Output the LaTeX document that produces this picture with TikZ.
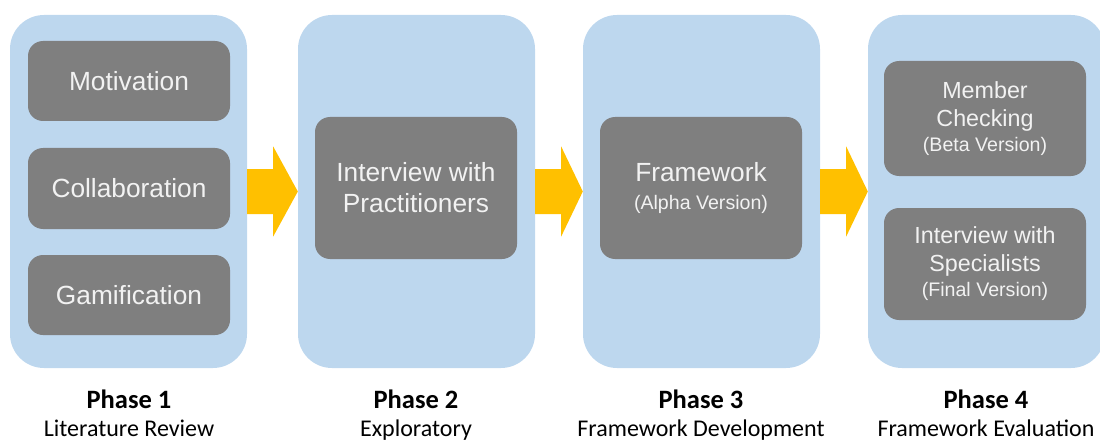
\documentclass[tikz,border=0pt]{standalone}
\usepackage{fontspec}
\newfontfamily\arialf{Liberation Sans}
\newfontfamily\calf{Carlito}
\usetikzlibrary{calc}
\definecolor{phaseblue}{HTML}{BDD7EE}
\definecolor{itemgray}{HTML}{7F7F7F}
\definecolor{itemtext}{HTML}{F2F2F2}
\definecolor{arrowgold}{HTML}{FFC000}
\tikzset{
  phasebox/.style={fill=phaseblue, draw=none, rounded corners=34pt, minimum width=237pt, minimum height=353pt, inner sep=0pt},
  itembox/.style={fill=itemgray, draw=none, rounded corners=15pt, minimum width=202pt, inner sep=0pt, text=itemtext, align=center},
  bigtxt/.style={font=\arialf\fontsize{26.3}{31}\selectfont},
  midtxt/.style={font=\arialf\fontsize{23.3}{28}\selectfont},
  phasetitle/.style={font=\calf\bfseries\fontsize{26.5}{30}\selectfont, anchor=base, inner sep=0pt},
  phasesub/.style={font=\calf\fontsize{24}{28}\selectfont, anchor=base, inner sep=0pt},
  flowarrow/.style={fill=arrowgold, draw=none}
}
\newcommand{\smalltext}[1]{{\fontsize{19.6}{22}\selectfont #1}}
\newcommand{\phasearrow}[2]{%
  \fill[flowarrow] ($(#1.east)+(0,-22.5)$) -- ($(#1.east)+(26,-22.5)$) -- ($(#1.east)+(26,-45)$)
    -- (#2.west) -- ($(#1.east)+(26,45)$) -- ($(#1.east)+(26,22.5)$) -- ($(#1.east)+(0,22.5)$) -- cycle;}
\begin{document}
\begin{tikzpicture}[x=1pt,y=-1pt]
\useasboundingbox (0,0) rectangle (1100,441);
\clip (0,0) rectangle (1100,441);
% phase containers
\node[phasebox] (p1) at (128.5,191.5) {};
\node[phasebox] (p2) at (416.5,191.5) {};
\node[phasebox] (p3) at (701.5,191.5) {};
\node[phasebox] (p4) at (986.5,191.5) {};
% arrows
\phasearrow{p1}{p2}
\phasearrow{p2}{p3}
\phasearrow{p3}{p4}
% phase 1 items
\node[itembox, bigtxt, minimum height=80pt] (mot) at (129,81) {Motivation};
\node[itembox, bigtxt, minimum height=81pt] (col) at (129,188.5) {Collaboration};
\node[itembox, bigtxt, minimum height=80pt] (gam) at (129,295) {Gamification};
% phase 2
\node[itembox, bigtxt, minimum height=142pt] (int) at (416,188) {Interview with\\Practitioners};
% phase 3
\node[itembox, bigtxt, minimum height=142pt] (fw) at (701,188) {Framework\\[-3pt]\smalltext{(Alpha Version)}};
% phase 4
\node[itembox, midtxt, minimum height=115pt] (mem) at (985,118.5) {Member\\Checking\\[-3pt]\smalltext{(Beta Version)}};
\node[itembox, midtxt, minimum height=112pt] (spec) at (985,264) {Interview with\\Specialists\\[-3pt]\smalltext{(Final Version)}};
% labels
\node[phasetitle] (t1) at (129,408) {Phase 1};
\node[phasesub] (s1) at (129,436) {Literature Review};
\node[phasetitle] (t2) at (416,408) {Phase 2};
\node[phasesub] (s2) at (416,436) {Exploratory};
\node[phasetitle] (t3) at (701,408) {Phase 3};
\node[phasesub] (s3) at (701,436) {Framework Development};
\node[phasetitle] (t4) at (986,408) {Phase 4};
\node[phasesub] (s4) at (986,436) {Framework Evaluation};
\end{tikzpicture}
\end{document}
